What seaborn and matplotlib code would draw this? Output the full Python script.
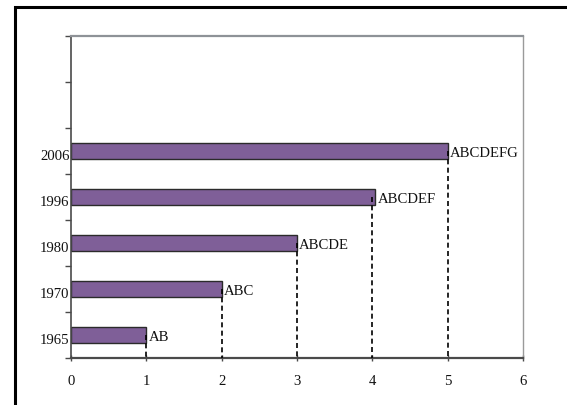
import matplotlib.pyplot as plt
import matplotlib.patches as mpatches
import pandas as pd
import seaborn as sns

# data
years = ["2006", "1996", "1980", "1970", "1965"]
values = [5.0, 4.04, 3.0, 2.0, 1.0]
guide_x = [5, 4, 3, 2, 1]
bar_labels = ["ABCDEFG", "ABCDEF", "ABCDE", "ABC", "AB"]
slots = ["empty_a", "empty_b"] + years
x_ticks = [0, 1, 2, 3, 4, 5, 6]

BAR = "#7f5f98"
EDGE = "#2b2b2b"
AXIS = "#4a4a4a"
LIGHT = "#8e9297"
FS = 10.6

W, H = 567, 405

sns.set_theme(style="white")
plt.rcParams["font.family"] = ["Liberation Serif", "DejaVu Serif"]
plt.rcParams["font.size"] = FS

fig = plt.figure(figsize=(W / 100, H / 100), dpi=100)
ax = fig.add_axes([71 / W, 1 - 358 / H, (523 - 71) / W, (358 - 36) / H])

df = pd.DataFrame({"year": years, "value": values})
sns.barplot(data=df, x="value", y="year", order=slots, orient="h",
            color=BAR, saturation=1, width=0.36, edgecolor=EDGE,
            linewidth=1.0, ax=ax)

ax.set_xlim(0, 6)
ax.set_ylim(len(slots) - 0.5, -0.5)
ax.set_xlabel("")
ax.set_ylabel("")

# dashed guides from bar ends down to the axis, plus value labels
for yr, v, g, lab in zip(years, values, guide_x, bar_labels):
    pos = slots.index(yr)
    ax.plot([g, g], [pos, len(slots) - 0.5], ls=(0, (3, 2)), color="black",
            lw=1.2, zorder=3)
    ax.text(v + 0.03, pos + 0.05, lab, ha="left", va="center", fontsize=FS,
            color="#111111")

# category axis: ticks between slots, labels at slot centres
ax.set_yticks([i - 0.5 for i in range(len(slots) + 1)])
ax.set_yticklabels([])
ax.set_yticks([slots.index(y) + 0.08 for y in years], labels=years, minor=True)
ax.tick_params(axis="y", which="major", direction="out", length=4,
               width=1, color=AXIS, left=True)
ax.tick_params(axis="y", which="minor", length=0, pad=1, labelsize=FS,
               labelcolor="#111111")

ax.set_xticks(x_ticks)
ax.set_xticklabels([str(t) for t in x_ticks])
ax.tick_params(axis="x", direction="inout", length=5, width=1, color=AXIS,
               pad=10, labelsize=FS, labelcolor="#111111", bottom=True)

ax.grid(False)
ax.spines["left"].set_color(AXIS)
ax.spines["left"].set_linewidth(1.2)
ax.spines["bottom"].set_color(AXIS)
ax.spines["bottom"].set_linewidth(1.6)
ax.spines["top"].set_color(LIGHT)
ax.spines["top"].set_linewidth(1.6)
ax.spines["right"].set_color("#9a9a9a")
ax.spines["right"].set_linewidth(1.0)

# outer frame, cut off on the right and bottom like the original
frame = mpatches.Rectangle((14.5 / W, -0.2), 1.3, 1 - 7.5 / H + 0.2,
                           transform=fig.transFigure, fill=False,
                           lw=2.2, ec="black")
fig.patches.append(frame)

fig.savefig("out.png", dpi=100)
